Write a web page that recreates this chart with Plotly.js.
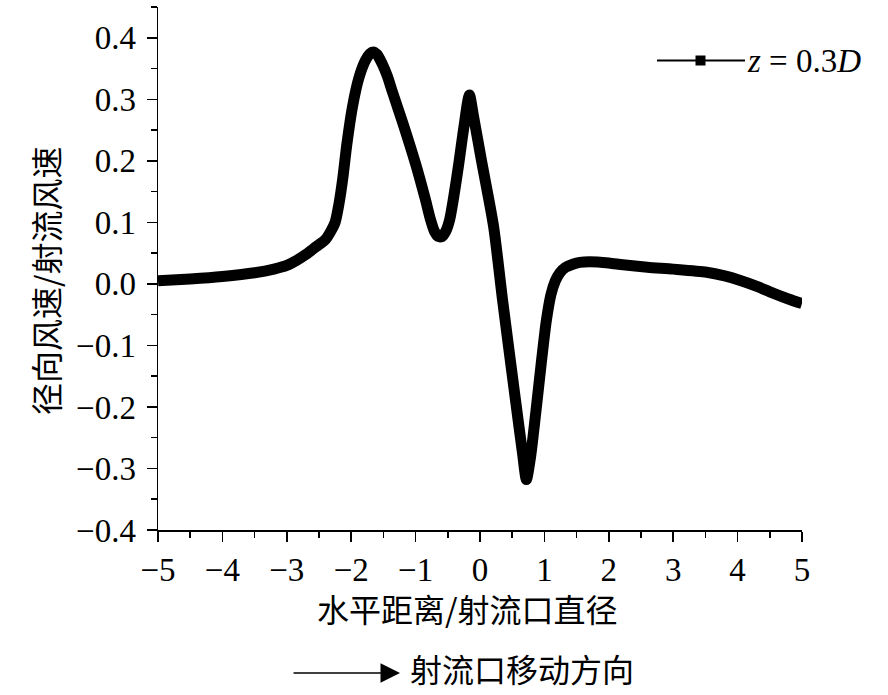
<!DOCTYPE html>
<html>
<head>
<meta charset="utf-8">
<script src="https://cdn.plot.ly/plotly-3.0.1.min.js"></script>
<style>html,body{margin:0;padding:0;background:#fff;}#chart{width:888px;height:695px;}</style>
</head>
<body>
<div id="chart"></div>
<script>
// Horizontal distance / jet diameter
const xDist = [-5.0, -4.5, -4.0, -3.5, -3.2, -3.0, -2.85, -2.7, -2.55, -2.4, -2.32, -2.25,
  -2.19, -2.13, -2.07, -1.98, -1.88, -1.78, -1.71, -1.66, -1.60, -1.52, -1.44, -1.36, -1.2, -1.0, -0.85,
  -0.77, -0.71, -0.65, -0.59, -0.53, -0.47, -0.41, -0.33, -0.25, -0.165,
  -0.1, 0.02, 0.21, 0.35, 0.55, 0.66, 0.72,
  0.78, 0.86, 0.95, 1.03, 1.1, 1.17, 1.24, 1.33, 1.44, 1.55, 1.7, 2.0, 2.22, 2.6, 3.0, 3.52, 3.8, 4.03, 4.3, 4.55, 4.8, 5.0];
// Radial wind speed / jet wind speed at z = 0.3D
const vRatio = [0.005, 0.008, 0.012, 0.018, 0.024, 0.030, 0.038, 0.048, 0.060, 0.072, 0.085, 0.100,
  0.130, 0.172, 0.225, 0.288, 0.335, 0.363, 0.374, 0.377, 0.373, 0.358, 0.338, 0.312, 0.262, 0.195, 0.138,
  0.105, 0.086, 0.077, 0.077, 0.086, 0.105, 0.140, 0.195, 0.255, 0.307,
  0.272, 0.202, 0.094, -0.026, -0.188, -0.275, -0.318,
  -0.285, -0.215, -0.130, -0.060, -0.018, 0.005, 0.018, 0.027, 0.032, 0.035, 0.036, 0.034, 0.031, 0.027, 0.024, 0.019, 0.013, 0.006, -0.004, -0.015, -0.025, -0.032];
const seriesName = '<i>z</i> = 0.3<i>D</i>';
const xTickVals = [-5, -4, -3, -2, -1, 0, 1, 2, 3, 4, 5];
const yTickVals = [-0.4, -0.3, -0.2, -0.1, 0.0, 0.1, 0.2, 0.3, 0.4];
const xTitle = '水平距离/射流口直径';
const yTitle = '径向风速/射流风速';
const noteText = '射流口移动方向';

const W = 888, H = 695;
const L = 158, R = 86, T = 7, B = 165;
const pw = W - L - R, ph = H - T - B;
const px = v => (v - L) / pw;          // pixel x -> paper
const py = v => (H - B - v) / ph;      // pixel y -> paper

const serif = 'Liberation Serif, Times New Roman, serif';
const cjk = 'Noto Sans CJK SC, sans-serif';

const trace = {
  x: xDist, y: vRatio, type: 'scatter', mode: 'lines', name: seriesName,
  line: {color: '#000', width: 11, shape: 'spline', smoothing: 0.7}, showlegend: false
};

const axisCommon = {
  showline: true, linecolor: '#000', linewidth: 1.5, mirror: false,
  showgrid: false, zeroline: false, ticks: 'outside', ticklen: 10, tickwidth: 1.5, tickcolor: '#000',
  tickfont: {family: serif, size: 33, color: '#000'},
  minor: {ticks: 'outside', ticklen: 6, tickwidth: 1.5, tickcolor: '#000', showgrid: false}
};

const layout = {
  width: W, height: H,
  margin: {l: L, r: R, t: T, b: B, pad: 0},
  paper_bgcolor: '#fff', plot_bgcolor: '#fff',
  showlegend: false,
  xaxis: Object.assign({}, axisCommon, {
    range: [-5, 5], tickmode: 'array', tickvals: xTickVals,
    ticktext: xTickVals.map(v => v < 0 ? '\u2212' + Math.abs(v) : String(v)),
    minor: Object.assign({}, axisCommon.minor, {dtick: 0.5, tick0: 0})
  }),
  yaxis: Object.assign({}, axisCommon, {
    range: [-0.4, 0.45], tickmode: 'array', tickvals: yTickVals, ticklabelstandoff: 4,
    ticktext: yTickVals.map(v => (v < 0 ? '\u2212' : '') + Math.abs(v).toFixed(1)),
    minor: Object.assign({}, axisCommon.minor, {dtick: 0.05, tick0: 0})
  }),
  shapes: [
    {type: 'line', xref: 'paper', yref: 'paper', x0: px(657), x1: px(745), y0: py(60.5), y1: py(60.5),
     line: {color: '#000', width: 2}},
    {type: 'rect', xref: 'paper', yref: 'paper', x0: px(695.5), x1: px(705.5), y0: py(65.5), y1: py(55.5),
     line: {color: '#000', width: 0}, fillcolor: '#000'}
  ],
  annotations: [
    {xref: 'paper', yref: 'paper', x: px(745), y: py(61), xanchor: 'left', yanchor: 'middle',
     text: seriesName, showarrow: false, font: {family: serif, size: 33, color: '#000'}},
    {xref: 'paper', yref: 'paper', x: px(467), y: py(608), xanchor: 'center', yanchor: 'middle',
     text: xTitle, showarrow: false, font: {family: cjk, size: 32, color: '#000'}},
    {xref: 'paper', yref: 'paper', x: px(45), y: py(281), xanchor: 'center', yanchor: 'middle',
     text: yTitle, textangle: -90, showarrow: false, font: {family: cjk, size: 32, color: '#000'}},
    {xref: 'paper', yref: 'paper', x: px(408), y: py(668), xanchor: 'left', yanchor: 'middle',
     text: noteText, showarrow: false, font: {family: cjk, size: 32, color: '#000'}},
    {xref: 'paper', yref: 'paper', x: px(400), y: py(673), axref: 'pixel', ayref: 'pixel',
     ax: -108, ay: 0, text: '', showarrow: true, arrowhead: 2, arrowsize: 2.6, arrowwidth: 1.5, arrowcolor: '#000'}
  ]
};

Plotly.newPlot('chart', [trace], layout, {staticPlot: true, displayModeBar: false});
</script>
</body>
</html>
